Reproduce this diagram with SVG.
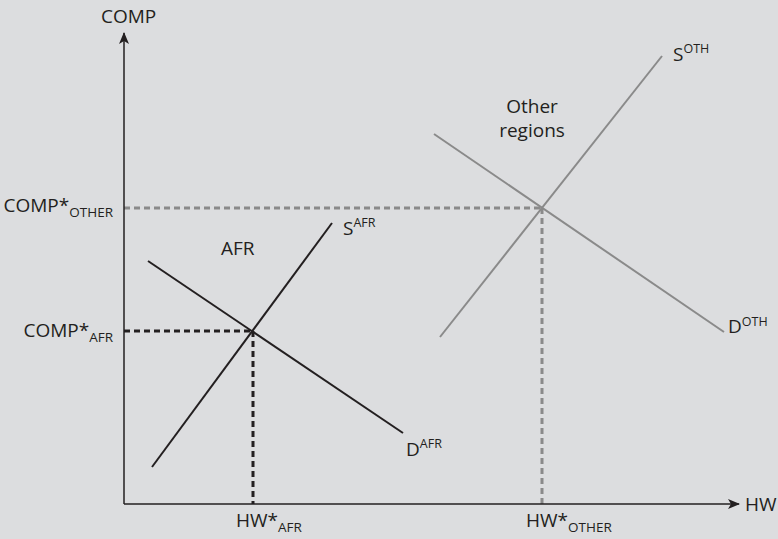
<svg xmlns="http://www.w3.org/2000/svg" width="778" height="539" viewBox="0 0 778 539">
<defs>
<marker id="arr" viewBox="0 0 12 10" refX="11" refY="5" markerWidth="12" markerHeight="10" markerUnits="userSpaceOnUse" orient="auto">
<path d="M0,0 L12,5 L0,10 L3,5 Z" fill="#231f20"/>
</marker>
</defs>
<style>
text{font-family:"Open Sans","Liberation Sans",sans-serif;fill:#231f20;font-size:19px}
.sub{font-size:13.5px}
.sup{font-size:12.5px}
.axis{stroke:#231f20;stroke-width:1.5;fill:none}
.afr{stroke:#231f20;stroke-width:2;fill:none}
.oth{stroke:#8a8a8a;stroke-width:2;fill:none}
.dafr{stroke:#231f20;stroke-width:3;stroke-dasharray:6,4;fill:none}
.doth{stroke:#8a8a8a;stroke-width:3;stroke-dasharray:6,4;fill:none}
</style>
<rect width="778" height="539" fill="#dcdddf"/>
<g id="connectors">
<line class="doth" x1="124" y1="208" x2="542" y2="208"/>
<line class="doth" x1="542" y1="208" x2="542" y2="504"/>
<line class="dafr" x1="124" y1="331" x2="253" y2="331"/>
<line class="dafr" x1="253" y1="331" x2="253" y2="504"/>
<line class="axis" x1="124" y1="504" x2="124" y2="33" marker-end="url(#arr)"/>
<line class="axis" x1="124" y1="504" x2="739" y2="504" marker-end="url(#arr)"/>
<line class="afr" x1="148" y1="261" x2="403" y2="433"/>
<line class="afr" x1="152" y1="467" x2="332" y2="223"/>
<line class="oth" x1="434" y1="134" x2="724" y2="332"/>
<line class="oth" x1="440" y1="337" x2="662" y2="56"/>
</g>
<g id="comp-label"><text x="101" y="23">COMP</text></g>
<g id="hw-label"><text x="745" y="511">HW</text></g>
<g id="comp-other"><text x="113" y="212" text-anchor="end">COMP*<tspan class="sub" dy="5">OTHER</tspan></text></g>
<g id="comp-afr"><text x="113" y="337" text-anchor="end">COMP*<tspan class="sub" dy="5">AFR</tspan></text></g>
<g id="hw-afr"><text x="236" y="527">HW*<tspan class="sub" dy="5">AFR</tspan></text></g>
<g id="hw-other"><text x="526" y="527">HW*<tspan class="sub" dy="5">OTHER</tspan></text></g>
<g id="afr-label"><text x="221" y="255">AFR</text></g>
<g id="other-label"><text x="532" y="113" text-anchor="middle">Other</text><text x="532" y="137" text-anchor="middle">regions</text></g>
<g id="s-afr"><text x="343" y="235">S<tspan class="sup" dy="-8">AFR</tspan></text></g>
<g id="d-afr"><text x="406" y="456">D<tspan class="sup" dy="-8">AFR</tspan></text></g>
<g id="s-oth"><text x="673" y="61">S<tspan class="sup" dy="-8">OTH</tspan></text></g>
<g id="d-oth"><text x="728" y="333">D<tspan class="sup" dy="-7">OTH</tspan></text></g>
</svg>
